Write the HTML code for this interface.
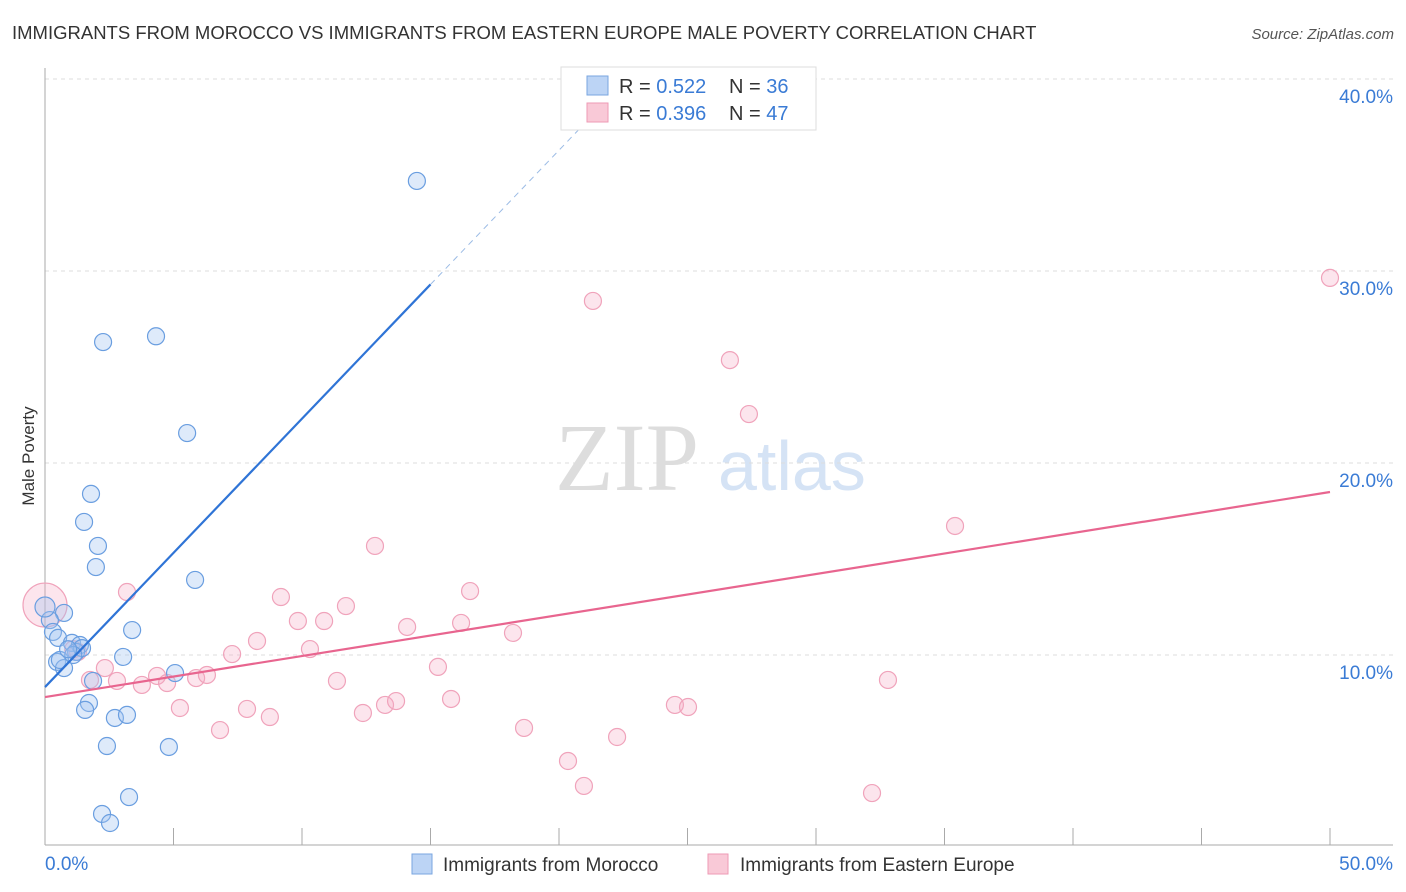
<!DOCTYPE html>
<html><head><meta charset="utf-8"><style>
body{margin:0;background:#fff;font-family:"Liberation Sans",sans-serif}
svg{display:block}
</style></head><body>
<svg id="c" width="1406" height="892">
<text x="12" y="39" font-size="18.5" fill="#333">IMMIGRANTS FROM MOROCCO VS IMMIGRANTS FROM EASTERN EUROPE MALE POVERTY CORRELATION CHART</text>
<text x="1394" y="39" font-size="15" fill="#555" font-style="italic" text-anchor="end">Source: ZipAtlas.com</text>
<text x="0" y="0" transform="translate(34,456) rotate(-90)" font-size="17" fill="#333" text-anchor="middle">Male Poverty</text>
<text x="555" y="490" font-size="96" fill="#ddd" font-family="Liberation Serif,serif">ZIP</text>
<text x="718" y="490" font-size="70" fill="#d5e3f5">atlas</text>
<g id="grid"></g><g id="axes"></g><g id="pts"></g><g id="lines"></g>
<g>
<rect x="561" y="67" width="255" height="63" fill="#fff" stroke="#ddd"/>
<rect x="587" y="76" width="21" height="19" fill="#bcd4f5" stroke="#7aa6e0"/>
<rect x="587" y="103" width="21" height="19" fill="#f9c9d7" stroke="#ee9ab4"/>
<text x="619" y="93" font-size="20" fill="#333">R = <tspan fill="#3a7bd5">0.522</tspan></text>
<text x="729" y="93" font-size="20" fill="#333">N = <tspan fill="#3a7bd5">36</tspan></text>
<text x="619" y="120" font-size="20" fill="#333">R = <tspan fill="#3a7bd5">0.396</tspan></text>
<text x="729" y="120" font-size="20" fill="#333">N = <tspan fill="#3a7bd5">47</tspan></text>
</g>
<g>
<rect x="412" y="854" width="20" height="20" fill="#bcd4f5" stroke="#7aa6e0"/>
<text x="443" y="871" font-size="19" fill="#333">Immigrants from Morocco</text>
<rect x="708" y="854" width="20" height="20" fill="#f9c9d7" stroke="#ee9ab4"/>
<text x="740" y="871" font-size="19" fill="#333">Immigrants from Eastern Europe</text>
</g>
</svg>
<script>
const blueX=[14.47,2.26,4.32,5.53,1.79,1.52,2.06,1.98,5.84,0.74,3.39,0.19,0.31,0.51,1.05,1.36,1.21,1.44,3.04,5.06,0.47,0.74,1.87,1.71,1.56,2.72,3.19,2.41,4.82,2.22,2.53,3.27,0,0.58,1.1,0.9];
const blueY=[34.69,26.3,26.6,21.56,18.39,16.93,15.68,14.58,13.91,12.19,11.3,11.82,11.2,10.89,10.63,10.52,10.16,10.36,9.9,9.06,9.64,9.32,8.65,7.5,7.14,6.72,6.88,5.26,5.21,1.72,1.25,2.6,12.5,9.74,10.0,10.3];
const pinkX=[0,3.19,9.18,12.84,16.54,11.71,21.32,26.65,27.39,35.41,50,9.84,10.86,14.09,16.19,18.21,8.25,7.28,10.31,2.33,1.75,2.8,3.77,4.36,4.75,5.88,6.3,15.29,11.36,5.25,7.86,8.75,6.81,12.37,13.23,13.66,15.8,18.64,22.26,20.35,20.97,24.51,25.02,32.8,32.18,1.28,1.1];
const pinkY=[12.6,13.28,13.02,15.68,13.33,12.55,28.44,25.36,22.55,16.72,29.64,11.77,11.77,11.46,11.67,11.15,10.73,10.05,10.31,9.32,8.7,8.65,8.44,8.91,8.54,8.8,8.96,9.38,8.65,7.24,7.19,6.77,6.09,6.98,7.4,7.6,7.71,6.2,5.73,4.48,3.18,7.4,7.29,8.7,2.81,10.16,10.3];
const blueLine=[8.33,1.398];
const pinkLine=[7.81,0.2136];
const yTicks=[10,20,30,40];
const yTickLabels=["10.0%","20.0%","30.0%","40.0%"];
const xTicks=[0,5,10,15,20,25,30,35,40,45,50];
const X=v=>45+v*25.7, Y=v=>847-v*19.2;
const NS="http://www.w3.org/2000/svg";
function mk(tag,at,parent){const e=document.createElementNS(NS,tag);for(const k in at)e.setAttribute(k,at[k]);document.getElementById(parent).appendChild(e);return e;}
yTicks.forEach((t,i)=>{
 const g=mk('line',{x1:45,x2:1393,y1:Y(t),y2:Y(t),stroke:'#ddd','stroke-dasharray':'4,4'},'grid');
 
 
 const l=mk('text',{x:1393,y:Y(t)+24,'font-size':19,fill:'#3a7bd5','text-anchor':'end'},'grid');
 l.textContent=yTickLabels[i];
 
 
});
let a=mk('line',{x1:45,x2:45,y1:68,y2:845,stroke:'#aaa'},'axes');


a=mk('line',{x1:45,x2:1393,y1:845,y2:845,stroke:'#aaa'},'axes');


xTicks.forEach(t=>{const e=mk('line',{x1:X(t),x2:X(t),y1:828,y2:845,stroke:'#aaa'},'axes');
 
 });
let t=mk('text',{x:45,y:870,'font-size':19,fill:'#3a7bd5'},'axes');t.textContent='0.0%';


t=mk('text',{x:1393,y:870,'font-size':19,fill:'#3a7bd5','text-anchor':'end'},'axes');t.textContent='50.0%';


pinkX.forEach((x,i)=>{const c=mk('circle',{cx:X(x),cy:Y(pinkY[i]),r:i==0?22:8.5,fill:'rgba(246,170,195,0.3)',stroke:'#f0a3bb','stroke-width':1.2},'pts');
 
 });
blueX.forEach((x,i)=>{const c=mk('circle',{cx:X(x),cy:Y(blueY[i]),r:i==32?10:8.5,fill:'rgba(160,195,240,0.35)',stroke:'#6a9ee0','stroke-width':1.2},'pts');
 
 });
let ln=mk('line',{x1:X(0),y1:Y(blueLine[0]),x2:X(15),y2:Y(blueLine[0]+15*blueLine[1]),stroke:'#2f74d6','stroke-width':2.2},'lines');


ln=mk('line',{x1:X(15),y1:Y(blueLine[0]+15*blueLine[1]),x2:X(20.8),y2:Y(blueLine[0]+20.8*blueLine[1]),stroke:'#9bbbe5','stroke-width':1,'stroke-dasharray':'6,5'},'lines');


ln=mk('line',{x1:X(0),y1:Y(pinkLine[0]),x2:X(50),y2:Y(pinkLine[0]+50*pinkLine[1]),stroke:'#e8658f','stroke-width':2.2},'lines');


</script>
</body></html>
